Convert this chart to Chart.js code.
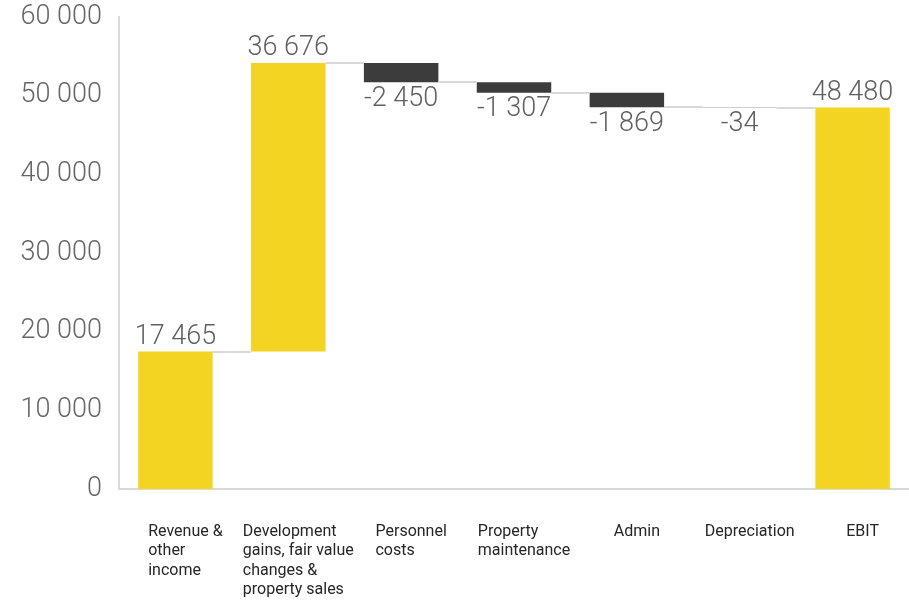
<!DOCTYPE html>
<html>
<head>
<meta charset="utf-8">
<script src="https://cdn.jsdelivr.net/npm/chart.js@4.4.1/dist/chart.umd.min.js"></script>
<style>
  html, body { margin: 0; padding: 0; background: #fff; }
  #wrap { width: 909px; height: 600px; }
</style>
</head>
<body>
<div id="wrap"><canvas id="waterfallChart" width="909" height="600"></canvas></div>
<script>
// category labels, one array of lines per bar
const categories = [
  ["Revenue &", "other", "income"],
  ["Development", "gains, fair value", "changes &", "property sales"],
  ["Personnel", "costs"],
  ["Property", "maintenance"],
  ["Admin"],
  ["Depreciation"],
  ["EBIT"],
];
const changes = [17465, 36676, -2450, -1307, -1869, -34, 48480];
const isTotal = [false, false, false, false, false, false, true];
const yTicks = [0, 10000, 20000, 30000, 40000, 50000, 60000];

const yellow = "#f3d423";
const dark = "#3c3c3c";
const lineGray = "#d9d9d9";

function fmt(v) {
  let s = Math.abs(v).toString().replace(/\B(?=(\d{3})+(?!\d))/g, " ");
  return (v < 0 ? "-" : "") + s;
}

// floating ranges for the waterfall
let running = 0;
const ranges = [];
changes.forEach((v, i) => {
  if (isTotal[i]) {
    ranges.push([0, v]);
    running = v;
  } else {
    ranges.push([running, running + v]);
    running += v;
  }
});

const barColors = changes.map((v, i) => (isTotal[i] || v >= 0 ? yellow : dark));

const waterfallExtras = {
  id: "waterfallExtras",
  afterDatasetsDraw(chart) {
    const ctx = chart.ctx;
    const meta = chart.getDatasetMeta(0);
    const yScale = chart.scales.y;

    // connector lines between bars
    ctx.save();
    ctx.strokeStyle = lineGray;
    ctx.lineWidth = 2;
    for (let i = 0; i < meta.data.length - 1; i++) {
      let a = meta.data[i];
      let b = meta.data[i + 1];
      let y = Math.round(yScale.getPixelForValue(ranges[i][1]));
      ctx.beginPath();
      ctx.moveTo(a.x + a.width / 2, y);
      ctx.lineTo(b.x - b.width / 2, y);
      ctx.stroke();
    }
    ctx.restore();

    // value labels
    ctx.save();
    ctx.font = "300 27px Roboto";
    ctx.fillStyle = "#606060";
    ctx.textAlign = "center";
    meta.data.forEach((bar, i) => {
      let top = Math.min(bar.y, bar.base);
      let bottom = Math.max(bar.y, bar.base);
      if (isTotal[i] || changes[i] >= 0) {
        ctx.textBaseline = "bottom";
        ctx.fillText(fmt(changes[i]), bar.x, top - 1);
      } else {
        ctx.textBaseline = "top";
        ctx.fillText(fmt(changes[i]), bar.x, bottom + 3);
      }
    });
    ctx.restore();
  },
  afterDraw(chart) {
    // left aligned multi line category labels
    const ctx = chart.ctx;
    const meta = chart.getDatasetMeta(0);
    const area = chart.chartArea;
    ctx.save();
    ctx.font = "16px Roboto";
    ctx.fillStyle = "#262626";
    ctx.textAlign = "left";
    ctx.textBaseline = "middle";
    meta.data.forEach((bar, i) => {
      let lines = categories[i];
      let w = Math.max(...lines.map((l) => ctx.measureText(l).width));
      let left = bar.x + 10 - w / 2;
      lines.forEach((l, j) => {
        ctx.fillText(l, left, area.bottom + 43 + j * 19.3);
      });
    });
    ctx.restore();
  },
};

const ctx = document.getElementById("waterfallChart").getContext("2d");
const myChart = new Chart(ctx, {
  type: "bar",
  data: {
    labels: categories.map((c) => c.join(" ")),
    datasets: [
      {
        data: ranges,
        backgroundColor: barColors,
        borderWidth: 0,
        barPercentage: 0.66,
        categoryPercentage: 1,
      },
    ],
  },
  options: {
    responsive: false,
    animation: false,
    layout: { padding: { top: 17, right: 0, bottom: 0, left: 0 } },
    plugins: {
      legend: { display: false },
      tooltip: { enabled: false },
    },
    scales: {
      x: {
        grid: { display: false, drawTicks: false },
        border: { color: lineGray, width: 2 },
        ticks: { display: false },
        afterFit: (s) => { s.height = 111; s.paddingLeft = 0; s.paddingRight = 0; },
      },
      y: {
        min: 0,
        max: 60000,
        grid: { display: false, drawTicks: false },
        border: { color: lineGray, width: 2 },
        afterBuildTicks: (s) => { s.ticks = yTicks.map((v) => ({ value: v })); },
        afterFit: (s) => { s.width = 119; s.paddingTop = 0; s.paddingBottom = 0; },
        ticks: {
          padding: 17,
          color: "#666666",
          font: { family: "Roboto", size: 27, weight: "300" },
          callback: (v) => fmt(v),
        },
      },
    },
  },
  plugins: [waterfallExtras],
});
</script>
</body>
</html>
